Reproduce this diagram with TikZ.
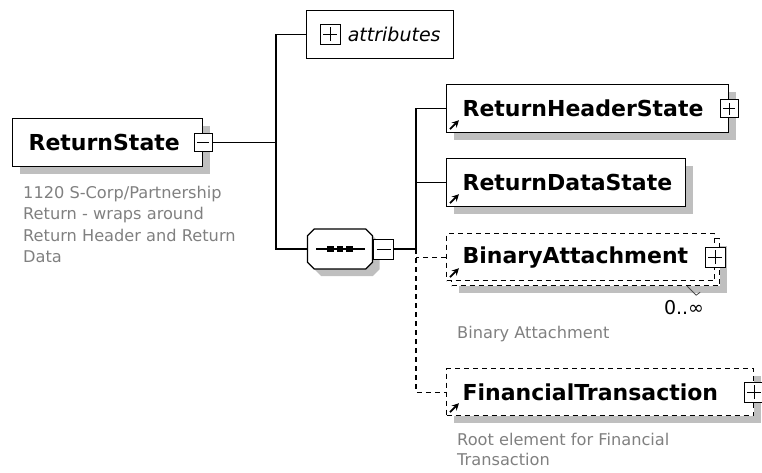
\documentclass[tikz,border=0pt]{standalone}
\usepackage{fontspec}
\setmainfont{DejaVu Sans}
\usetikzlibrary{arrows,arrows.meta,shapes.misc,shadows}

\newcommand\elemfont{\fontsize{22}{26}\selectfont\bfseries}
\newcommand\docfont{\fontsize{16.2}{21.3}\selectfont}

\begin{document}
\begin{tikzpicture}[x=1pt,y=-1pt,
    elem/.style={draw,line width=1.2pt,fill=white,anchor=north west,
      inner xsep=16pt,inner ysep=0pt,minimum height=48pt,align=left,
      font=\elemfont},
    boxshadow/.style={drop shadow={shadow xshift=7pt,shadow yshift=-7pt,
      fill=gray!50,opacity=1}},
    optional/.style={dash pattern=on 5pt off 4pt},
    pmbox/.style={draw,fill=white,line width=0.9pt,minimum size=#1,inner sep=0pt},
    minus/.style={pmbox=#1,path picture={
      \draw[line width=0.9pt] ([xshift=3pt]path picture bounding box.west)
        -- ([xshift=-3pt]path picture bounding box.east);}},
    plus/.style={pmbox=#1,path picture={
      \draw[line width=0.9pt] ([xshift=3pt]path picture bounding box.west)
        -- ([xshift=-3pt]path picture bounding box.east);
      \draw[line width=0.9pt] ([yshift=3pt]path picture bounding box.south)
        -- ([yshift=-3pt]path picture bounding box.north);}},
    doc/.style={anchor=north west,inner sep=0pt,align=left,text=gray,font=\docfont},
    conn/.style={line width=1.2pt},
    refmark/.style={-{Stealth[length=7pt,width=7pt]},line width=1.8pt}]
  \useasboundingbox (0,0) rectangle (762,472);

  % root element
  \node[elem,boxshadow,text width=158pt] (rs) at (12,118) {ReturnState};
  \node[minus=18pt] (rs-pm) at (rs.east) {};
  \node[doc] (rs-doc) at (23,186) {1120 S-Corp/Partnership\\Return - wraps around\\Return Header and Return\\Data};

  % attributes
  \node[draw,line width=1.2pt,anchor=north west,minimum width=147pt,minimum height=48pt,
        inner xsep=0pt,text width=121pt,align=right,font=\fontsize{19}{21}\selectfont\itshape]
        (attr) at (306,10) {attributes};
  \node[plus=20pt] (attr-pm) at (330,34) {};

  % sequence
  \node[draw,line width=1.2pt,fill=white,chamfered rectangle,chamfered rectangle xsep=8pt,
        minimum width=65pt,minimum height=40pt,boxshadow] (seq) at (340,249) {};
  \draw[line width=1.2pt] ([xshift=-24pt]seq.center) -- ([xshift=25pt]seq.center);
  \foreach \dx in {-9.5,0,9.5}
    \fill ([xshift=\dx pt]seq.center) +(-3.2,-3.2) rectangle +(3.2,3.2);
  \node[minus=20pt,anchor=west] (seq-pm) at (seq.east) {};

  % children
  \node[elem,boxshadow,text width=250pt] (hdr) at (446,84) {ReturnHeaderState};
  \node[plus=18pt] (hdr-pm) at (hdr.east) {};
  \node[elem,boxshadow,text width=207pt] (data) at (446,158) {ReturnDataState};

  \node[elem,boxshadow,optional,text width=236pt,minimum height=47pt] (bin-back) at (451,238) {};
  \node[elem,optional,text width=236pt,minimum height=47pt] (bin) at (446,233) {BinaryAttachment};
  \node[plus=20pt] (bin-pm) at (bin.east) {};
  \draw[line width=0.8pt,gray!60!black] ([xshift=-33pt]bin-back.south east) -- ++(9,9) -- ++(4,-3);
  \node[font=\fontsize{19}{22}\selectfont,inner sep=0pt] (bin-max) at (684,308) {0..∞};
  \node[doc] (bin-doc) at (457,326) {Binary Attachment};

  \node[elem,boxshadow,optional,text width=275pt,minimum height=47pt] (fin) at (446,368) {FinancialTransaction};
  \node[plus=20pt] (fin-pm) at (fin.east) {};
  \node[doc,font=\fontsize{16.2}{20}\selectfont] (fin-doc) at (457,433) {Root element for Financial\\Transaction};

  \foreach \n in {hdr,data,bin,fin}
    \draw[refmark] ([shift={(4,-4)}]\n.south west) -- ++(9,-9);

  % connectors
  \coordinate (j1) at (276,142);
  \coordinate (j2) at (416,249);
  \draw[conn] (rs-pm.east) -- (rs-pm.east -| j1);
  \draw[conn] (attr.west) -| (j1) |- (seq.west);
  \draw[conn] (seq-pm.east) -- (j2);
  \draw[conn] (hdr.west) -| (j2);
  \draw[conn] (data.west) -- (data.west -| j2);
  \draw[conn,optional] (j2) |- (fin.west);
  \draw[conn,optional] (bin.west) -- (bin.west -| j2);
\end{tikzpicture}
\end{document}
